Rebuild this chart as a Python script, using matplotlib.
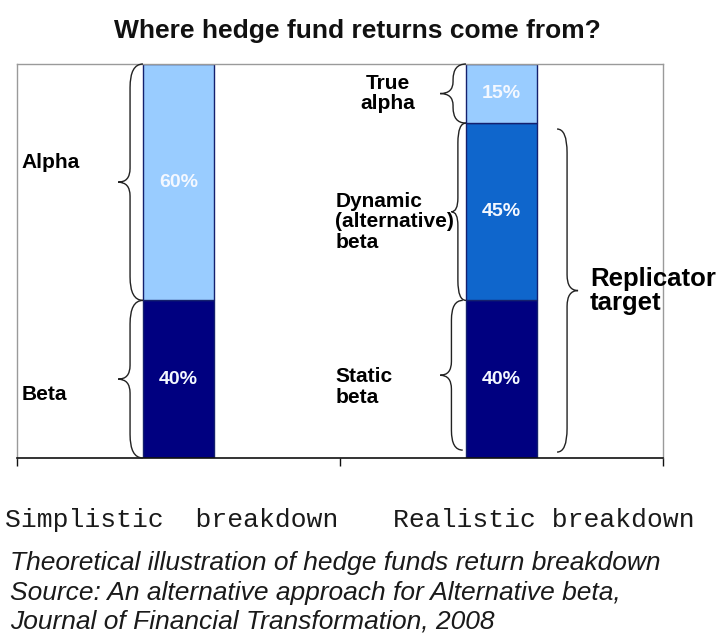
import matplotlib
matplotlib.use("Agg")
import matplotlib.pyplot as plt
import matplotlib.transforms as mtransforms
from matplotlib.path import Path
from matplotlib.patches import PathPatch

# ---- chart content -------------------------------------------------------
title = "Where hedge fund returns come from?"
categories = ["Simplistic  breakdown", "Realistic breakdown"]

simple_parts = ["Beta", "Alpha"]
simple_values = [40, 60]

real_parts = ["Static\nbeta", "Dynamic\n(alternative)\nbeta", "True\nalpha"]
real_values = [40, 45, 15]

replicator_label = "Replicator\ntarget"

caption_lines = [
    "Theoretical illustration of hedge funds return breakdown",
    "Source: An alternative approach for Alternative beta,",
    "Journal of Financial Transformation, 2008",
]

# ---- styling -------------------------------------------------------------
SANS = ["Liberation Sans", "DejaVu Sans"]
MONO = ["Liberation Mono", "DejaVu Sans Mono"]
NAVY = "#000080"
MID = "#0f66cc"
LIGHT = "#99ccff"
EDGE = "#14206e"

simple_colors = [NAVY, LIGHT]
real_colors = [NAVY, MID, LIGHT]

W, H = 723, 637
fig = plt.figure(figsize=(W / 100, H / 100), dpi=100)
fig.patch.set_facecolor("white")

ax = fig.add_axes([17 / W, 1 - 458 / H, (663 - 17) / W, (458 - 64) / H])
ax.set_xlim(0, 2)
ax.set_ylim(0, 100)

BAR_W = 0.22
x_pos = [0.5, 1.5]


def draw_stack(x, values, colors):
    bottom = 0
    spans = []
    for v, c in zip(values, colors):
        ax.bar(x, v, bottom=bottom, width=BAR_W, color=c,
               edgecolor=EDGE, linewidth=1.0, zorder=2)
        ax.text(x, bottom + v / 2, f"{v}%", ha="center", va="center",
                color="#f4f8ff", fontsize=14, fontweight="bold",
                family=SANS, zorder=3)
        spans.append((bottom, bottom + v))
        bottom += v
    return spans


def brace(x_end, x_spine, x_tip, y0, y1, r_end, r_tip, lw=1.0):
    """Curly brace between y0 and y1; points toward x_tip."""
    ym = (y0 + y1) / 2
    verts = [
        (x_end, y1),
        (x_spine, y1), (x_spine, y1 - r_end),
        (x_spine, ym + r_tip),
        (x_spine, ym), (x_tip, ym),
        (x_spine, ym), (x_spine, ym - r_tip),
        (x_spine, y0 + r_end),
        (x_spine, y0), (x_end, y0),
    ]
    codes = [Path.MOVETO,
             Path.CURVE3, Path.CURVE3,
             Path.LINETO,
             Path.CURVE3, Path.CURVE3,
             Path.CURVE3, Path.CURVE3,
             Path.LINETO,
             Path.CURVE3, Path.CURVE3]
    ax.add_patch(PathPatch(Path(verts, codes), facecolor="none",
                           edgecolor="#222222", linewidth=lw, zorder=4,
                           clip_on=False))


simple_spans = draw_stack(x_pos[0], simple_values, simple_colors)
real_spans = draw_stack(x_pos[1], real_values, real_colors)

# left column braces and labels
left_edge = x_pos[0] - BAR_W / 2
for (y0, y1), name, dy in zip(simple_spans, simple_parts, [-4, 5]):
    brace(left_edge, left_edge - 0.04, left_edge - 0.077, y0, y1, 6, 3.5)
    ax.text(0.015, (y0 + y1) / 2 + dy, name, ha="left", va="center",
            fontsize=15, fontweight="bold", family=SANS)

# right column braces and labels
right_edge = x_pos[1] - BAR_W / 2
(s0, s1), (d0, d1), (a0, a1) = real_spans
brace(right_edge - 0.01, right_edge - 0.045, right_edge - 0.08, s0 + 2, s1, 5, 3.5)
brace(right_edge, right_edge - 0.025, right_edge - 0.045, d0, d1, 5, 3.5)
brace(right_edge, right_edge - 0.04, right_edge - 0.08, a0, a1, 4, 3)

ax.text(1.149, (a0 + a1) / 2, real_parts[2], ha="center", va="center",
        fontsize=15, fontweight="bold", family=SANS, linespacing=1.1)
ax.text(0.985, (d0 + d1) / 2 - 2.5, real_parts[1], ha="left", va="center",
        fontsize=15, fontweight="bold", family=SANS, linespacing=1.1)
ax.text(0.985, (s0 + s1) / 2 - 2, real_parts[0], ha="left", va="center",
        fontsize=15, fontweight="bold", family=SANS, linespacing=1.1)

# replicator brace spans static + dynamic beta
right_side = x_pos[1] + BAR_W / 2
r0, r1 = s0 + 1.5, d1 - 1.5
brace(right_side + 0.062, right_side + 0.093, right_side + 0.127, r0, r1, 6, 4)
ax.text(1.774, (r0 + r1) / 2, replicator_label, ha="left", va="center",
        fontsize=18.5, fontweight="bold", family=SANS, linespacing=1.0,
        zorder=5)

# frame: light grey box, black baseline with boundary ticks
for side in ["top", "left", "right"]:
    ax.spines[side].set_color("#9a9a9a")
    ax.spines[side].set_linewidth(1.0)
ax.spines["bottom"].set_color("#111111")
ax.spines["bottom"].set_linewidth(1.2)
ax.set_yticks([])
ax.set_xticks([0, 1, 2])
ax.set_xticklabels([])
ax.tick_params(axis="x", direction="out", length=6, width=1.0, color="#111111")

# category names under the baseline
trans = mtransforms.blended_transform_factory(ax.transData, fig.transFigure)
ax.text(-0.037, 1 - 520 / H, categories[0], transform=trans, ha="left",
        va="center", fontsize=19, family=MONO, color="#1a1a1a")
ax.text(1.164, 1 - 520 / H, categories[1], transform=trans, ha="left",
        va="center", fontsize=19, family=MONO, color="#1a1a1a")

# title and caption
fig.text(357 / W, 1 - 31 / H, title, ha="center", va="center",
         fontsize=19, fontweight="bold", family=SANS, color="#111111")
for i, base in enumerate([570, 600, 628]):
    fig.text(10 / W, 1 - base / H, caption_lines[i], ha="left",
             va="baseline", fontsize=19, style="italic", family=SANS,
             color="#1a1a1a")

fig.savefig("out.png", dpi=100, facecolor="white")
